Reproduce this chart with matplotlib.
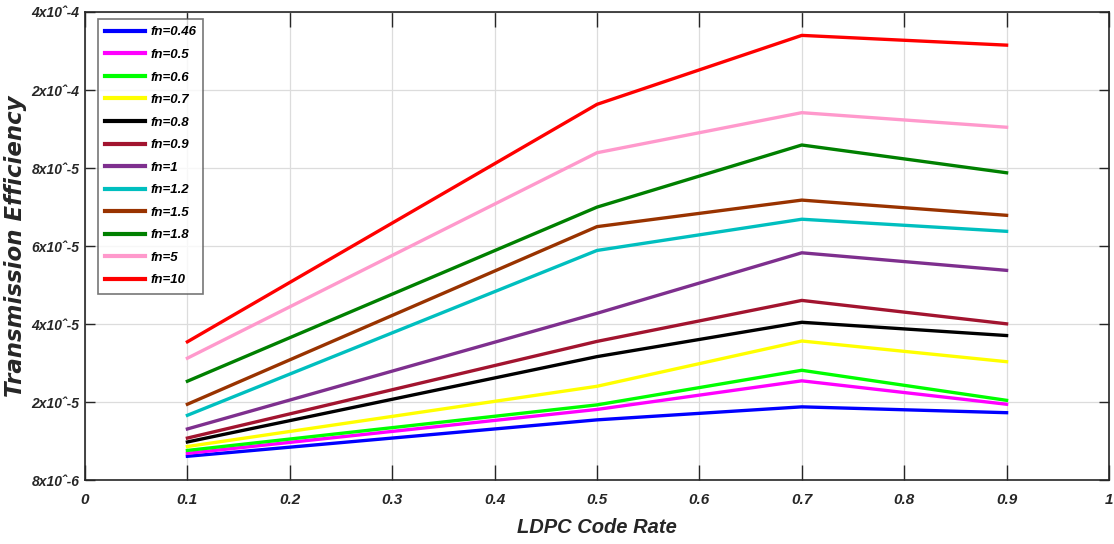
import numpy as np
import matplotlib
matplotlib.use("Agg")
import matplotlib.pyplot as plt

code_rate = [0.1, 0.5, 0.7, 0.9]

labels = ["fn=0.46", "fn=0.5", "fn=0.6", "fn=0.7", "fn=0.8", "fn=0.9",
          "fn=1", "fn=1.2", "fn=1.5", "fn=1.8", "fn=5", "fn=10"]

eff_046 = [1.17e-5, 1.73e-5, 1.93e-5, 1.84e-5]
eff_05 = [1.215e-5, 1.89e-5, 2.55e-5, 1.97e-5]
eff_06 = [1.26e-5, 1.96e-5, 2.82e-5, 2.05e-5]
eff_07 = [1.32e-5, 2.41e-5, 3.57e-5, 3.04e-5]
eff_08 = [1.39e-5, 3.17e-5, 4.05e-5, 3.71e-5]
eff_09 = [1.45e-5, 3.56e-5, 4.61e-5, 4.01e-5]
eff_1 = [1.59e-5, 4.28e-5, 5.83e-5, 5.38e-5]
eff_12 = [1.80e-5, 5.89e-5, 6.69e-5, 6.38e-5]
eff_15 = [1.97e-5, 6.50e-5, 7.18e-5, 6.79e-5]
eff_18 = [2.54e-5, 7.00e-5, 1.155e-4, 7.88e-5]
eff_5 = [3.13e-5, 1.036e-4, 1.652e-4, 1.428e-4]
eff_10 = [3.55e-5, 1.78e-4, 3.40e-4, 3.15e-4]

series = [eff_046, eff_05, eff_06, eff_07, eff_08, eff_09,
          eff_1, eff_12, eff_15, eff_18, eff_5, eff_10]

colors = ["#0000ff", "#ff00ff", "#00ff00", "#ffff00", "#000000", "#a2142f",
          "#7e2f8e", "#00bfbf", "#993300", "#008000", "#ff99cc", "#ff0000"]

# y axis ticks are equally spaced though the values are not
ytick_vals = [8e-6, 2e-5, 4e-5, 6e-5, 8e-5, 2e-4, 4e-4]
ytick_labels = ["8x10\u02c6-6", "2x10\u02c6-5", "4x10\u02c6-5", "6x10\u02c6-5",
                "8x10\u02c6-5", "2x10\u02c6-4", "4x10\u02c6-4"]
ypos = np.arange(len(ytick_vals))


def fwd(v):
    return np.interp(v, ytick_vals, ypos)


def inv(p):
    return np.interp(p, ypos, ytick_vals)


plt.rcParams['font.family'] = ['Liberation Sans Narrow', 'Liberation Sans', 'DejaVu Sans']

fig = plt.figure(figsize=(11.14, 5.44), dpi=100)
ax = fig.add_axes([0.0763, 0.117, 0.9192, 0.861])

for s, lab, c in zip(series, labels, colors):
    ax.plot(code_rate, s, color=c, lw=2.4, label=lab)

ax.set_yscale('function', functions=(fwd, inv))
ax.set_ylim(8e-6, 4e-4)
ax.set_xlim(0, 1)
ax.set_yticks(ytick_vals)
ax.set_yticklabels(ytick_labels)
ax.yaxis.set_minor_locator(matplotlib.ticker.NullLocator())
ax.set_xticks(np.round(np.arange(0, 1.01, 0.1), 1))
ax.set_xticklabels(["0", "0.1", "0.2", "0.3", "0.4", "0.5", "0.6",
                    "0.7", "0.8", "0.9", "1"])

ax.grid(True, color="#dcdcdc", lw=0.9)
ax.tick_params(direction='in', width=1, top=True, right=True, colors="#262626")
ax.tick_params(axis='x', length=10.5, labelsize=11, pad=9)
ax.tick_params(axis='y', length=7.5, labelsize=10, pad=4)
for t in ax.get_xticklabels() + ax.get_yticklabels():
    t.set_fontweight('bold')
    t.set_fontstyle('italic')
for sp in ax.spines.values():
    sp.set_color("#262626")
    sp.set_linewidth(1.2)

ax.set_xlabel("LDPC Code Rate", fontsize=14.5, fontweight='bold', fontstyle='italic',
              color="#262626", labelpad=8)
ax.set_ylabel("Transmission Efficiency", fontsize=16.5, fontweight='bold',
              fontstyle='italic', family=['DejaVu Sans'], color="#262626")
ax.yaxis.set_label_coords(-0.057, 0.5)

leg = ax.legend(loc='upper left', bbox_to_anchor=(0.0127, 0.985), fancybox=False,
                handlelength=3.0, handletextpad=0.4, labelspacing=0.78,
                borderpad=0.55, borderaxespad=0,
                prop={'weight': 'bold', 'style': 'italic', 'size': 9.5})
leg.get_frame().set_edgecolor("#555555")
leg.get_frame().set_linewidth(1.2)
for l in leg.get_lines():
    l.set_linewidth(3)

fig.savefig("out.png", dpi=100)
